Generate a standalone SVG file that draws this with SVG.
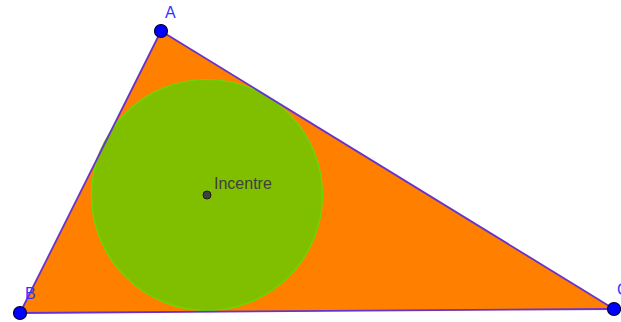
<svg xmlns="http://www.w3.org/2000/svg" width="621" height="322" viewBox="0 0 621 322">
<style>
.pt{fill:#0000ff;stroke:#000033;stroke-width:1.2}
.lbl{font-family:"Liberation Sans",Arial,sans-serif;font-size:16px;fill:#3333ff}
.edge{stroke:#6633cc;stroke-width:1.8;fill:none}
</style>
<rect width="621" height="322" fill="#ffffff"/>
<g id="triangle">
<polygon points="161,31 20,313 614,309" fill="#ff7f00"/>
</g>
<g id="incircle">
<circle cx="207" cy="195" r="115.5" fill="#7fbf00" stroke="#66dd00" stroke-width="1.2"/>
</g>
<g id="connectors">
<line class="edge" x1="161" y1="31" x2="20" y2="313"/>
<line class="edge" x1="161" y1="31" x2="614" y2="309"/>
<line class="edge" x1="20" y1="313" x2="614" y2="309"/>
</g>
<g id="incentre">
<circle cx="207" cy="195" r="4" fill="#404040" stroke="#1a1a1a" stroke-width="1"/>
<text x="214" y="189" font-family="Liberation Sans,Arial,sans-serif" font-size="16" fill="#404040">Incentre</text>
</g>
<g id="A">
<circle class="pt" cx="161" cy="31" r="6.5"/>
<text class="lbl" x="165" y="18">A</text>
</g>
<g id="B">
<circle class="pt" cx="20" cy="313" r="6.5"/>
<text class="lbl" x="25" y="299">B</text>
</g>
<g id="C">
<circle class="pt" cx="614" cy="309" r="6.5"/>
<text class="lbl" x="617" y="295">C</text>
</g>
</svg>
